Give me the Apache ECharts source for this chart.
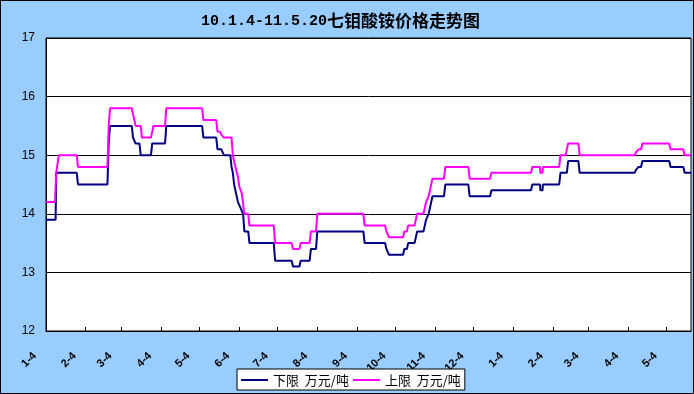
<!DOCTYPE html>
<html>
<head>
<meta charset="utf-8">
<script src="https://cdn.jsdelivr.net/npm/echarts@6/dist/echarts.min.js"></script>
<style>
html,body{margin:0;padding:0;background:#99CCFF;}
#chart{width:694px;height:394px;}
</style>
</head>
<body>
<div id="chart"></div>
<script>
// x = days since 2010-01-04
const tickDays = [0,31,59,90,120,151,181,212,243,273,304,334,365,396,424,455,485];
const tickLabels = ['1-4','2-4','3-4','4-4','5-4','6-4','7-4','8-4','9-4','10-4','11-4','12-4','1-4','2-4','3-4','4-4','5-4'];
const yTicks = [12,13,14,15,16,17];

const lowerName = '下限  万元/吨';
const upperName = '上限  万元/吨';

const lowerSeries = [[0,13.9],[7.5,13.9],[8,14.7],[24,14.7],[25,14.5],[48,14.5],[49,15.2],[50,15.5],[67,15.5],[68,15.3],[69,15.3],[70,15.2],[73,15.2],[74,15.0],[82,15.0],[83,15.2],[93,15.2],[94,15.5],[122,15.5],[123,15.3],[133,15.3],[134,15.1],[137,15.1],[139,15.0],[144,15.0],[145,14.8],[146,14.7],[147,14.5],[149,14.3],[150,14.2],[152,14.1],[154,14.0],[155,13.7],[158,13.7],[159,13.5],[178,13.5],[179,13.2],[192,13.2],[193,13.1],[198,13.1],[199,13.2],[206,13.2],[207,13.4],[211,13.4],[212,13.7],[248,13.7],[249,13.5],[265,13.5],[266,13.4],[267,13.4],[268,13.3],[279,13.3],[280,13.4],[282,13.4],[283,13.5],[288,13.5],[289,13.6],[290,13.7],[295,13.7],[296,13.8],[297,13.9],[299,14.0],[302,14.3],[311,14.3],[312,14.5],[330,14.5],[331,14.3],[347,14.3],[348,14.4],[379,14.4],[380,14.5],[386,14.5],[386.3,14.4],[388,14.4],[388.3,14.5],[401,14.5],[402,14.7],[407,14.7],[408,14.9],[416,14.9],[417,14.7],[460,14.7],[461,14.75],[463,14.8],[465,14.8],[466,14.9],[487,14.9],[488,14.8],[498,14.8],[499,14.7],[504,14.7]];

const upperSeries = [[0,14.2],[7,14.2],[8,14.7],[9,14.7],[10,15.0],[24,15.0],[25,14.8],[48,14.8],[49,15.5],[50,15.8],[67,15.8],[68,15.7],[69,15.6],[70,15.5],[74,15.5],[75,15.3],[82,15.3],[83,15.4],[84,15.5],[93,15.5],[94,15.8],[122,15.8],[123,15.6],[133,15.6],[134,15.4],[136,15.4],[137,15.35],[139,15.3],[145,15.3],[146,15.0],[148,14.8],[150,14.63],[151,14.47],[153,14.35],[155,14.0],[158,14.0],[159,13.8],[178,13.8],[179,13.5],[192,13.5],[193,13.4],[198,13.4],[199,13.5],[206,13.5],[207,13.7],[211,13.7],[212,14.0],[248,14.0],[249,13.8],[265,13.8],[266,13.7],[267,13.7],[268,13.6],[279,13.6],[280,13.7],[282,13.7],[283,13.8],[288,13.8],[290,14.0],[295,14.0],[296,14.1],[297,14.2],[299,14.3],[302,14.6],[311,14.6],[312,14.8],[330,14.8],[331,14.6],[347,14.6],[348,14.7],[379,14.7],[380,14.8],[386,14.8],[386.3,14.7],[388,14.7],[388.3,14.8],[401,14.8],[402,15.0],[406,15.0],[407,15.1],[408,15.2],[416,15.2],[417,15.0],[460,15.0],[461,15.05],[463,15.1],[465,15.1],[466,15.2],[487,15.2],[488,15.1],[498,15.1],[499,15.0],[504,15.0]];

const chart = echarts.init(document.getElementById('chart'));
chart.setOption({
  backgroundColor: '#99CCFF',
  animation: false,
  title: {
    text: '{a|10.1.4-11.5.20}{b|七钼酸铵价格走势图}',
    left: 201,
    top: 11,
    padding: 0,
    textStyle: {
      rich: {
        a: {fontFamily: 'Liberation Mono', fontWeight: 'bold', fontSize: 15, color: '#000', lineHeight: 20},
        b: {fontFamily: 'Noto Sans CJK SC', fontWeight: 'bold', fontSize: 17, color: '#000', lineHeight: 20}
      }
    }
  },
  graphic: [{
    type: 'rect', silent: true, z: 100,
    shape: {x: 0.5, y: 0.5, width: 693, height: 393},
    style: {fill: 'none', stroke: '#000', lineWidth: 1}
  }],
  legend: {
    data: [lowerName, upperName],
    left: 237, top: 369,
    z: 20,
    padding: [4, 4, 3, 4],
    itemGap: 4,
    itemWidth: 27, itemHeight: 2,
    icon: 'rect',
    backgroundColor: '#fff',
    borderColor: '#000', borderWidth: 1,
    textStyle: {fontFamily: 'Noto Sans CJK SC', fontSize: 13, color: '#000', lineHeight: 14}
  },
  grid: {
    left: 46, top: 38, width: 645, height: 293,
    show: true, backgroundColor: '#fff', borderColor: '#000', borderWidth: 1
  },
  xAxis: {
    type: 'value', min: 0, max: 504,
    axisLine: {show: true, lineStyle: {color: '#000', width: 1}},
    axisTick: {show: true, inside: true, length: 4, customValues: tickDays, lineStyle: {color: '#000'}},
    axisLabel: {
      customValues: tickDays,
      rotate: 45, margin: 12,
      padding: [0, 16, 0, 0],
      fontFamily: 'Liberation Sans', fontWeight: 'bold', fontSize: 11, color: '#000',
      formatter: v => tickLabels[tickDays.indexOf(Math.round(v))]
    },
    splitLine: {show: false}
  },
  yAxis: {
    type: 'value', min: yTicks[0], max: yTicks[yTicks.length-1], interval: 1,
    axisLine: {show: true, lineStyle: {color: '#000'}},
    axisTick: {show: false},
    axisLabel: {margin: 11, fontFamily: 'Liberation Sans', fontSize: 12, color: '#000'},
    splitLine: {show: true, lineStyle: {color: '#000', width: 1}}
  },
  series: [
    {name: lowerName, type: 'line', data: lowerSeries, showSymbol: false, color: '#000080',
     lineStyle: {width: 2, color: '#000080'}},
    {name: upperName, type: 'line', data: upperSeries, showSymbol: false, color: '#FF00FF',
     lineStyle: {width: 2, color: '#FF00FF'}}
  ]
});
</script>
</body>
</html>
